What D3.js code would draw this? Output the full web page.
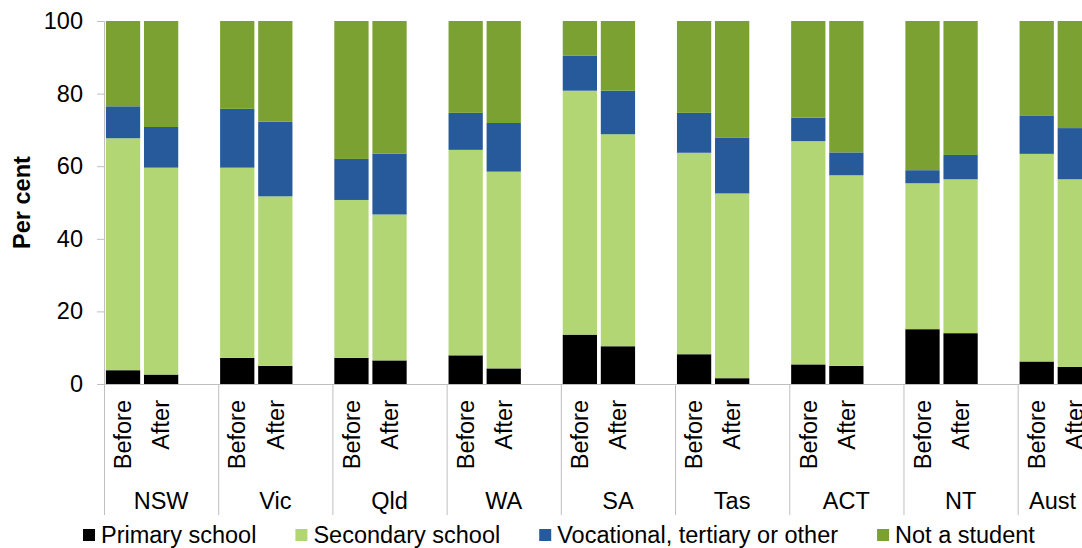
<!DOCTYPE html>
<html>
<head>
<meta charset="utf-8">
<script src="https://cdn.jsdelivr.net/npm/d3@7"></script>
<style>
  html, body { margin: 0; padding: 0; background: #fff; }
  svg { display: block; font-family: "Liberation Sans", Arial, sans-serif; }
</style>
</head>
<body>
<svg id="chart" width="1082" height="548"></svg>
<script>
// ---- Data ----
const states = ["NSW", "Vic", "Qld", "WA", "SA", "Tas", "ACT", "NT", "Aust"];
const periods = ["Before", "After"];
const seriesNames = ["Primary school", "Secondary school", "Vocational, tertiary or other", "Not a student"];
const yTicks = [0, 20, 40, 60, 80, 100];

// values per state: [Before, After], in per cent
const primary    = [[3.8, 2.6], [7.2, 5.0], [7.2, 6.5], [7.9, 4.3], [13.6, 10.4], [8.2, 1.6], [5.4, 5.0], [15.1, 14.0], [6.2, 4.7]];
const secondary  = [[63.9, 57.0], [52.4, 46.7], [43.5, 40.2], [56.6, 54.2], [67.2, 58.4], [55.5, 50.9], [61.5, 52.5], [40.2, 42.4], [57.2, 51.7]];
const vocational = [[8.8, 11.2], [16.2, 20.6], [11.3, 16.8], [10.2, 13.4], [9.6, 12.0], [11.0, 15.3], [6.5, 6.3], [3.6, 6.7], [10.6, 14.1]];
const notStudent = [[23.5, 29.2], [24.2, 27.7], [38.0, 36.5], [25.3, 28.1], [9.6, 19.2], [25.3, 32.2], [26.6, 36.2], [41.1, 36.9], [26.0, 29.5]];

const colors = ["#000000", "#b3d675", "#275a9a", "#7aa132"];

(function () {
// ---- Build rows ----
const seriesData = [primary, secondary, vocational, notStudent];
const rows = [];
states.forEach((s, si) => {
  periods.forEach((p, pi) => {
    const r = { key: s + "|" + p, state: s, period: p };
    seriesNames.forEach((n, k) => { r[n] = seriesData[k][si][pi]; });
    rows.push(r);
  });
});
const slots = [];
states.forEach(s => { periods.forEach(p => slots.push(s + "|" + p)); slots.push(s + "|gap"); });

const W = 1082;
const mLeft = 104, mTop = 21, mBottom = 384;
const slotW = 38.07;
const fs = 23.5;
const svg = d3.select("#chart");

const x = d3.scaleBand().domain(slots).range([mLeft, mLeft + slots.length * slotW]).paddingInner(0.1).paddingOuter(0.05);
const y = d3.scaleLinear().domain([0, 100]).range([mBottom, mTop]);

const stacked = d3.stack().keys(seriesNames)(rows);

svg.append("g").selectAll("g").data(stacked).join("g")
  .attr("fill", (d, i) => colors[i])
  .selectAll("rect").data(d => d).join("rect")
  .attr("x", d => x(d.data.key))
  .attr("width", x.bandwidth())
  .attr("y", d => y(d[1]))
  .attr("height", d => y(d[0]) - y(d[1]));

// ---- Y axis ----
const axisColor = "#bfbfbf";
const gy = svg.append("g").attr("transform", `translate(${mLeft},0)`)
  .call(d3.axisLeft(y).tickValues(yTicks).tickSize(7).tickPadding(14).tickFormat(d3.format("d")));
gy.select(".domain").attr("stroke", axisColor);
gy.selectAll(".tick line").attr("stroke", axisColor);
gy.selectAll(".tick text").attr("font-size", fs).attr("fill", "#000")
  .attr("font-family", "Liberation Sans, Arial, sans-serif");

svg.append("text")
  .attr("transform", `translate(22,${(mTop + mBottom) / 2}) rotate(-90)`)
  .attr("text-anchor", "middle").attr("dy", "0.35em")
  .attr("font-size", fs).attr("font-weight", "bold").text("Per cent");

// ---- X axis (multi-level) ----
svg.append("line").attr("x1", mLeft).attr("x2", W).attr("y1", mBottom + 0.5).attr("y2", mBottom + 0.5)
  .attr("stroke", axisColor);

const groupStart = s => x(s + "|Before") - x.step() * x.paddingOuter();
const groupW = x.step() * 3;

svg.append("g").selectAll("line").data(states).join("line")
  .attr("x1", s => groupStart(s) + 0.5).attr("x2", s => groupStart(s) + 0.5)
  .attr("y1", mBottom).attr("y2", 515)
  .attr("stroke", axisColor);

svg.append("g").selectAll("text").data(rows).join("text")
  .attr("transform", d => `translate(${x(d.key) + x.bandwidth() / 2},400) rotate(-90)`)
  .attr("text-anchor", "end").attr("dy", "0.35em")
  .attr("font-size", fs).attr("fill", "#000")
  .text(d => d.period);

svg.append("g").selectAll("text").data(states).join("text")
  .attr("y", 509)
  .attr("text-anchor", "middle")
  .attr("font-size", fs).attr("fill", "#000")
  .text(s => s)
  .attr("x", function (s) {
    const c = groupStart(s) + groupW / 2;
    const w = this.getComputedTextLength();
    return Math.min(c, W - w / 2 - 6);
  });

// ---- Legend ----
const gl = svg.append("g");
let lx = 83;
seriesNames.forEach((n, i) => {
  gl.append("rect").attr("x", lx).attr("y", 529).attr("width", 12).attr("height", 12).attr("fill", colors[i]);
  const t = gl.append("text").attr("x", lx + 18).attr("y", 543).attr("font-size", fs).attr("fill", "#000").text(n);
  lx = lx + 18 + t.node().getComputedTextLength() + 39;
});
})();
</script>
</body>
</html>
